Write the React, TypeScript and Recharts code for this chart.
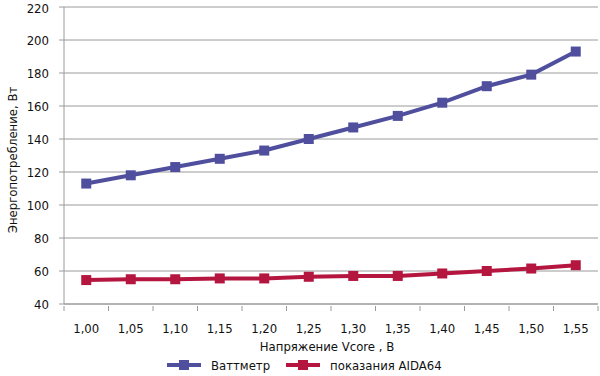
import { LineChart, Line, XAxis, YAxis, CartesianGrid, Legend } from 'recharts'

const voltages = ['1,00', '1,05', '1,10', '1,15', '1,20', '1,25', '1,30', '1,35', '1,40', '1,45', '1,50', '1,55']
const wattmeter = [113, 118, 123, 128, 133, 140, 147, 154, 162, 172, 179, 193]
const aida64 = [54.5, 55, 55, 55.5, 55.5, 56.5, 57, 57, 58.5, 60, 61.5, 63.5]
const yTicks = [40, 60, 80, 100, 120, 140, 160, 180, 200, 220]

const data = voltages.map((v, i) => ({ v, wattmeter: wattmeter[i], aida64: aida64[i] }))

const BLUE = '#4f4f9e'
const RED = '#b5163f'
const AXIS = '#9a9a9a'
const FONT = '"Liberation Sans Narrow", "DejaVu Sans Condensed", sans-serif'
const HALF = 22.25

function Square(props: any) {
  const { cx, cy, fill } = props
  if (cx == null || cy == null) return null
  return <rect x={cx - 5} y={cy - 5} width={10} height={10} fill={fill} />
}

function XTick(props: any) {
  const { x, y, payload, index } = props
  const last = index === voltages.length - 1
  return (
    <g>
      <line x1={x - HALF} y1={y} x2={x - HALF} y2={y + 5} stroke={AXIS} />
      {last && <line x1={x + HALF} y1={y} x2={x + HALF} y2={y + 5} stroke={AXIS} />}
      <text x={x} y={y + 27} textAnchor='middle' fontSize={13} fill='#111' fontFamily={FONT}>
        {payload.value}
      </text>
    </g>
  )
}

function XTitle(props: any) {
  const { viewBox } = props
  const cx = viewBox.x + viewBox.width / 2 - 4
  return (
    <text x={cx} y={viewBox.y + 47} textAnchor='middle' fontSize={13} fill='#111' fontFamily={FONT}>
      Напряжение Vcore , В
    </text>
  )
}

function YTitle() {
  return (
    <text
      transform='translate(17, 160) rotate(-90)'
      textAnchor='middle'
      fontSize={13}
      fill='#111'
      fontFamily={FONT}
    >
      Энергопотребление, Вт
    </text>
  )
}

function LegendBox() {
  const item = (color: string, text: string, gap: number) => (
    <div style={{ display: 'flex', alignItems: 'center', marginRight: gap }}>
      <svg width={34} height={12}>
        <line x1={0} y1={6} x2={34} y2={6} stroke={color} strokeWidth={4} />
        <rect x={12} y={1} width={10} height={10} fill={color} />
      </svg>
      <span style={{ marginLeft: 10, fontSize: 13, fontFamily: FONT, color: '#111' }}>{text}</span>
    </div>
  )
  return (
    <div style={{ height: 22, display: 'flex', justifyContent: 'flex-start', alignItems: 'center', paddingLeft: 167 }}>
      {item(BLUE, 'Ваттметр', 16)}
      {item(RED, 'показания AIDA64', 0)}
    </div>
  )
}

export default function App() {
  return (
    <div style={{ position: 'absolute', left: 0, top: 0, background: '#fff' }}>
      <LineChart width={600} height={376} data={data} margin={{ top: 7, right: 2, left: 0, bottom: 0 }}>
        <CartesianGrid vertical={false} stroke={AXIS} />
        <XAxis
          dataKey='v'
          scale='band'
          height={50}
          stroke={AXIS}
          tickLine={false}
          tickSize={0}
          tick={<XTick />}
          interval={0}
          label={<XTitle />}
        />
        <YAxis
          domain={[40, 220]}
          ticks={yTicks}
          width={64}
          stroke={AXIS}
          tickSize={5}
          tickMargin={10}
          tick={{ fontSize: 13, fill: '#111', fontFamily: FONT }}
          label={<YTitle />}
        />
        <Legend verticalAlign='bottom' content={<LegendBox />} />
        <Line dataKey='wattmeter' stroke={BLUE} strokeWidth={4} fill={BLUE} dot={<Square />} isAnimationActive={false} />
        <Line dataKey='aida64' stroke={RED} strokeWidth={4} fill={RED} dot={<Square />} isAnimationActive={false} />
      </LineChart>
    </div>
  )
}
